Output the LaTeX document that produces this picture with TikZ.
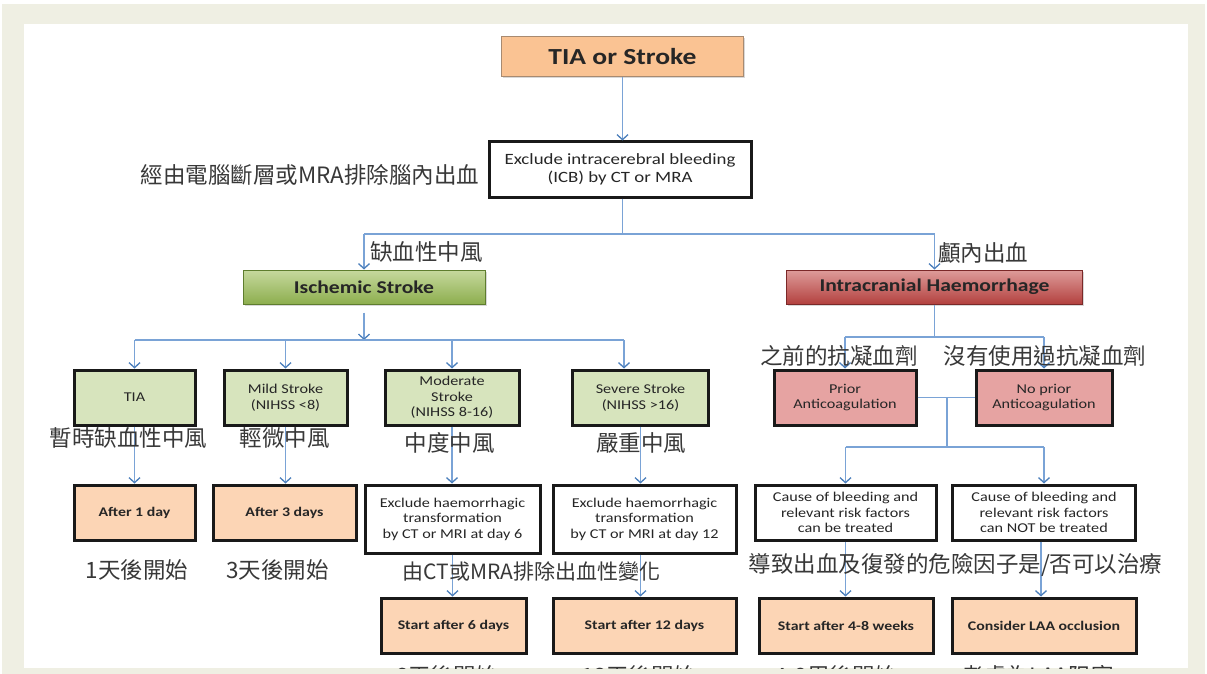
\documentclass[tikz,border=0pt]{standalone}
\usepackage{fontspec}
\setmainfont{Carlito}[FakeStretch=1.2]
\newfontfamily\cjk{Noto Sans CJK TC}
\usetikzlibrary{arrows.meta,shadows}
\definecolor{framec}{HTML}{EFEFE3}
\definecolor{lineblue}{HTML}{7AA3D6}
\definecolor{arrowblue}{HTML}{4A7EBB}
\definecolor{tiafill}{HTML}{FAC393}
\definecolor{tiadraw}{HTML}{A88A70}
\definecolor{greenfill}{HTML}{D7E4BD}
\definecolor{pinkfill}{HTML}{E6A3A2}
\definecolor{peachfill}{HTML}{FCD5B5}
\definecolor{gtop}{HTML}{C6D99E}
\definecolor{gbot}{HTML}{8DAE4E}
\definecolor{gdraw}{HTML}{5E7D2E}
\definecolor{rtop}{HTML}{DE9C9A}
\definecolor{rbot}{HTML}{B3413F}
\definecolor{rdraw}{HTML}{7B2828}
\tikzset{
  conn/.style={draw=lineblue, line width=1.3pt},
  arr/.style={conn, -{Straight Barb[length=5pt,width=11pt,color=arrowblue]}},
  boxbase/.style={align=center, inner sep=1pt, text=black!85},
  thickbox/.style={boxbase, draw=black!90, line width=3pt, minimum height=55pt},
  smalltxt/.style={font=\fontsize{13.5}{15.5}\selectfont},
  boldtxt/.style={font=\bfseries\fontsize{13.2}{15}\selectfont},
  greenbox/.style={thickbox, smalltxt, fill=greenfill},
  pinkbox/.style={thickbox, smalltxt, fill=pinkfill},
  whitebox/.style={thickbox, smalltxt, fill=white},
  peachbox/.style={thickbox, boldtxt, fill=peachfill},
  cjklab/.style={inner sep=0pt, text=black!78, font=\cjk\fontsize{22.5}{24}\selectfont},
  shade1/.style={drop shadow={shadow xshift=1.5pt, shadow yshift=-1.5pt, opacity=0.3}}
}
\begin{document}
\begin{tikzpicture}[x=1pt,y=-1pt]
\useasboundingbox (0,0) rectangle (1207,674);
\fill[white] (0,0) rectangle (1207,674);
\fill[framec] (2,4) rectangle (1205,674);
\fill[white] (24,24) rectangle (1188,668);
\begin{scope}
\clip (24,24) rectangle (1188,668);
% main nodes
\node[boxbase, shade1, fill=tiafill, draw=tiadraw, line width=1pt, minimum width=242pt, minimum height=40pt, font=\bfseries\fontsize{23}{26}\selectfont] (tia) at (622.5,57) {TIA or Stroke};
\node[whitebox, font=\fontsize{15.7}{17.5}\selectfont, minimum width=262pt, minimum height=55pt] (icb) at (620,169.5) {Exclude intracerebral bleeding\\(ICB) by CT or MRA};
\node[boxbase, shade1, top color=gtop, bottom color=gbot, draw=gdraw, line width=1pt, minimum width=242pt, minimum height=34pt, font=\bfseries\fontsize{18}{20}\selectfont] (isch) at (364,287) {Ischemic Stroke};
\node[boxbase, shade1, top color=rtop, bottom color=rbot, draw=rdraw, line width=1pt, minimum width=296pt, minimum height=34pt, font=\bfseries\fontsize{18}{20}\selectfont] (ich) at (934.5,287) {Intracranial Haemorrhage};
% ischemic row
\node[greenbox, minimum width=121pt] (gTIA) at (134.5,397.5) {TIA};
\node[greenbox, minimum width=123pt] (gMild) at (285.5,397.5) {Mild Stroke\\(NIHSS <8)};
\node[greenbox, minimum width=134pt] (gMod) at (452,397.5) {Moderate\\Stroke\\(NIHSS 8-16)};
\node[greenbox, minimum width=136pt] (gSev) at (640.5,397.5) {Severe Stroke\\(NIHSS >16)};
\node[pinkbox, minimum width=142pt] (prior) at (845,397.5) {Prior\\Anticoagulation};
\node[pinkbox, minimum width=136pt] (noprior) at (1044,397.5) {No prior\\Anticoagulation};
% third row
\node[peachbox, minimum width=121pt] (after1) at (134.5,512.5) {After 1 day};
\node[peachbox, minimum width=143pt] (after3) at (284.5,512.5) {After 3 days};
\node[whitebox, minimum width=175pt, minimum height=68pt] (exmod) at (452.5,519) {Exclude haemorrhagic\\transformation\\by CT or MRI at day 6};
\node[whitebox, minimum width=183pt, minimum height=68pt] (exsev) at (644.5,519) {Exclude haemorrhagic\\transformation\\by CT or MRI at day 12};
\node[whitebox, minimum width=181pt] (cause1) at (845.5,512.5) {Cause of bleeding and\\relevant risk factors\\can be treated};
\node[whitebox, minimum width=183pt] (cause2) at (1044,512.5) {Cause of bleeding and\\relevant risk factors\\can NOT be treated};
% bottom row
\node[peachbox, minimum width=145pt] (start6) at (453.5,625.5) {Start after 6 days};
\node[peachbox, minimum width=183pt] (start12) at (644.5,625.5) {Start after 12 days};
\node[peachbox, minimum width=174pt] (start48) at (846,625.5) {Start after 4-8 weeks};
\node[peachbox, minimum width=184pt] (laa) at (1044,625.5) {Consider LAA occlusion};
% helper coordinates
\coordinate (busA) at (0,234);
\coordinate (busB) at (0,340);
\coordinate (busC) at (0,337);
\coordinate (busD) at (0,447);
\coordinate (sevA) at (624,0);
\coordinate (splitD) at (947,0);
% connectors
\draw[arr] (tia.south) -- (tia.south |- icb.north);
\draw[conn] (tia.south |- icb.south) -- (tia.south |- busA);
\draw[conn] (isch.north |- busA) -- (ich.north |- busA);
\draw[arr] (isch.north |- busA) -- (isch.north);
\draw[arr] (ich.north |- busA) -- (ich.north);
\draw[arr] ([yshift=-8pt]isch.south) -- (isch.south |- busB);
\draw[conn] (gTIA.north |- busB) -- (sevA |- busB);
\draw[arr] (gTIA.north |- busB) -- (gTIA.north);
\draw[arr] (gMild.north |- busB) -- (gMild.north);
\draw[arr] (gMod.north |- busB) -- (gMod.north);
\draw[arr] (sevA |- busB) -- (sevA |- gSev.north);
\draw[arr] (gTIA.south) -- (after1.north);
\draw[arr] (gMild.south) -- (gMild.south |- after3.north);
\draw[arr] (gMod.south) -- (gMod.south |- exmod.north);
\draw[arr] (gSev.south) -- (gSev.south |- exsev.north);
\draw[arr] (exmod.south) -- (exmod.south |- start6.north);
\draw[arr] (gSev.south |- exsev.south) -- (gSev.south |- start12.north);
\draw[conn] (ich.south) -- (ich.south |- busC);
\draw[conn] (prior.north |- busC) -- (noprior.north |- busC);
\draw[arr] (prior.north |- busC) -- (prior.north);
\draw[arr] (noprior.north |- busC) -- (noprior.north);
\draw[conn] (prior.east) -- (noprior.west);
\draw[conn] (splitD |- prior.east) -- (splitD |- busD);
\draw[conn] (cause1.north |- busD) -- (cause2.north |- busD);
\draw[arr] (cause1.north |- busD) -- (cause1.north);
\draw[arr] (cause2.north |- busD) -- (cause2.north);
\draw[arr] (cause1.south) -- (cause1.south |- start48.north);
\draw[arr] ([xshift=-3pt]cause2.south) -- ([xshift=-3pt]cause2.south |- laa.north);
% Chinese labels
\node[cjklab] (l1) at (310,175) {經由電腦斷層或MRA排除腦內出血};
\node[cjklab] (l2) at (426.5,252) {缺血性中風};
\node[cjklab] (l3) at (983,253) {顱內出血};
\node[cjklab] (l4) at (839,356) {之前的抗凝血劑};
\node[cjklab] (l5) at (1045,356) {沒有使用過抗凝血劑};
\node[cjklab] (l6) at (128.5,438) {暫時缺血性中風};
\node[cjklab] (l7) at (284.5,438) {輕微中風};
\node[cjklab] (l8) at (449.5,443) {中度中風};
\node[cjklab] (l9) at (641,443) {嚴重中風};
\node[cjklab] (l10) at (137,570) {1天後開始};
\node[cjklab] (l11) at (277.5,570) {3天後開始};
\node[cjklab, font=\cjk\fontsize{21}{23}\selectfont] (l12) at (531.5,572) {由CT或MRA排除出血性變化};
\node[cjklab] (l13) at (955.5,565) {導致出血及復發的危險因子是/否可以治療};
\node[cjklab] (l14) at (447,676) {6天後開始};
\node[cjklab] (l15) at (639,676) {12天後開始};
\node[cjklab] (l16) at (836,676) {4-8周後開始};
\node[cjklab] (l17) at (1037.5,676) {考慮為LAA阻塞};
\end{scope}
\end{tikzpicture}
\end{document}
